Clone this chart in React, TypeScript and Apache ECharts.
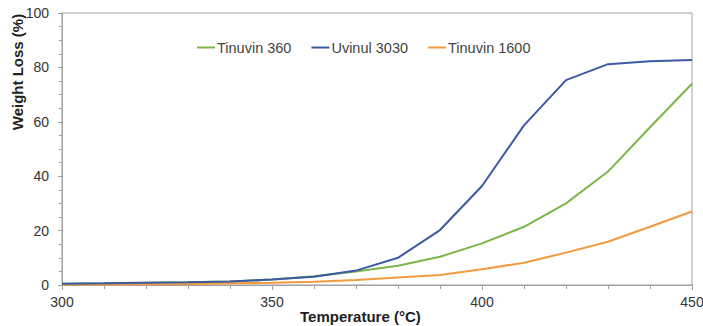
import React, { useEffect, useRef } from "react";
import * as echarts from "echarts";

const temperatures = [300, 310, 320, 330, 340, 350, 360, 370, 380, 390, 400, 410, 420, 430, 440, 450];
const tinuvin360 = [0.5, 0.6, 0.8, 1.0, 1.3, 2.0, 3.2, 5.0, 7.1, 10.4, 15.3, 21.4, 30.0, 41.7, 58.0, 74.0];
const uvinul3030 = [0.5, 0.6, 0.8, 1.0, 1.3, 2.0, 3.0, 5.3, 10.0, 20.2, 36.4, 58.7, 75.3, 81.2, 82.3, 82.7];
const tinuvin1600 = [0.2, 0.2, 0.3, 0.4, 0.6, 0.8, 1.2, 1.8, 2.8, 3.7, 5.8, 8.2, 11.9, 15.9, 21.4, 27.0];

const seriesNames = ["Tinuvin 360", "Uvinul 3030", "Tinuvin 1600"];
const seriesColors = ["#7cb648", "#3b5aa3", "#f39a3e"];
const xTitle = "Temperature (°C)";
const yTitle = "Weight Loss (%)";

export default function App() {
  const ref = useRef<HTMLDivElement>(null);
  useEffect(() => {
    if (!ref.current) return;
    const chart = echarts.init(ref.current, null, { renderer: "svg" });
    const datasets = [tinuvin360, uvinul3030, tinuvin1600];
    const font = "Liberation Sans, Arial, sans-serif";
    chart.setOption({
      animation: false,
      backgroundColor: "#ffffff",
      textStyle: { fontFamily: font },
      grid: {
        left: 62,
        right: 11,
        top: 13,
        bottom: 41,
        containLabel: false,
        outerBoundsMode: "none",
        show: true,
        borderColor: "#a0a0a0",
        borderWidth: 1,
      },
      legend: {
        data: seriesNames,
        left: 197,
        top: 40,
        padding: 0,
        icon: "rect",
        itemWidth: 18,
        itemHeight: 2,
        itemGap: 20,
        textStyle: { fontSize: 14.5, color: "#444", padding: [0, 0, 0, -3] },
      },
      xAxis: {
        type: "value",
        min: 300,
        max: 450,
        interval: 50,
        axisLine: { show: true, lineStyle: { color: "#a0a0a0" } },
        axisTick: { show: true, length: 5, lineStyle: { color: "#a0a0a0" } },
        minorTick: { show: true, splitNumber: 5, length: 4, lineStyle: { color: "#a0a0a0" } },
        splitLine: { show: false },
        axisLabel: { fontSize: 14, color: "#333", margin: 10 },
      },
      yAxis: {
        type: "value",
        min: 0,
        max: 100,
        interval: 20,
        axisLine: { show: true, lineStyle: { color: "#a0a0a0" } },
        axisTick: { show: true, length: 4, lineStyle: { color: "#a0a0a0" } },
        minorTick: { show: true, splitNumber: 4, length: 3, lineStyle: { color: "#a0a0a0" } },
        splitLine: { show: false },
        axisLabel: { fontSize: 14, color: "#333", margin: 13 },
      },
      graphic: [
        {
          type: "text",
          left: 300,
          top: 309,
          style: {
            text: xTitle,
            fontSize: 15,
            fontWeight: "bold",
            fill: "#222",
            fontFamily: font,
          },
        },
        {
          type: "text",
          x: 17,
          y: 72,
          rotation: Math.PI / 2,
          style: {
            text: yTitle,
            fontSize: 15,
            fontWeight: "bold",
            fill: "#222",
            fontFamily: font,
            align: "center",
            verticalAlign: "middle",
          },
        },
      ],
      series: seriesNames.map((name, i) => ({
        name,
        type: "line",
        showSymbol: false,
        symbol: "none",
        data: temperatures.map((t, j) => [t, datasets[i][j]]),
        lineStyle: { color: seriesColors[i], width: 2 },
        itemStyle: { color: seriesColors[i] },
        z: i === 1 ? 3 : 2,
      })),
    });
    return () => chart.dispose();
  }, []);
  return <div ref={ref} style={{ width: 703, height: 326, position: "absolute", left: 0, top: 0 }} />;
}
